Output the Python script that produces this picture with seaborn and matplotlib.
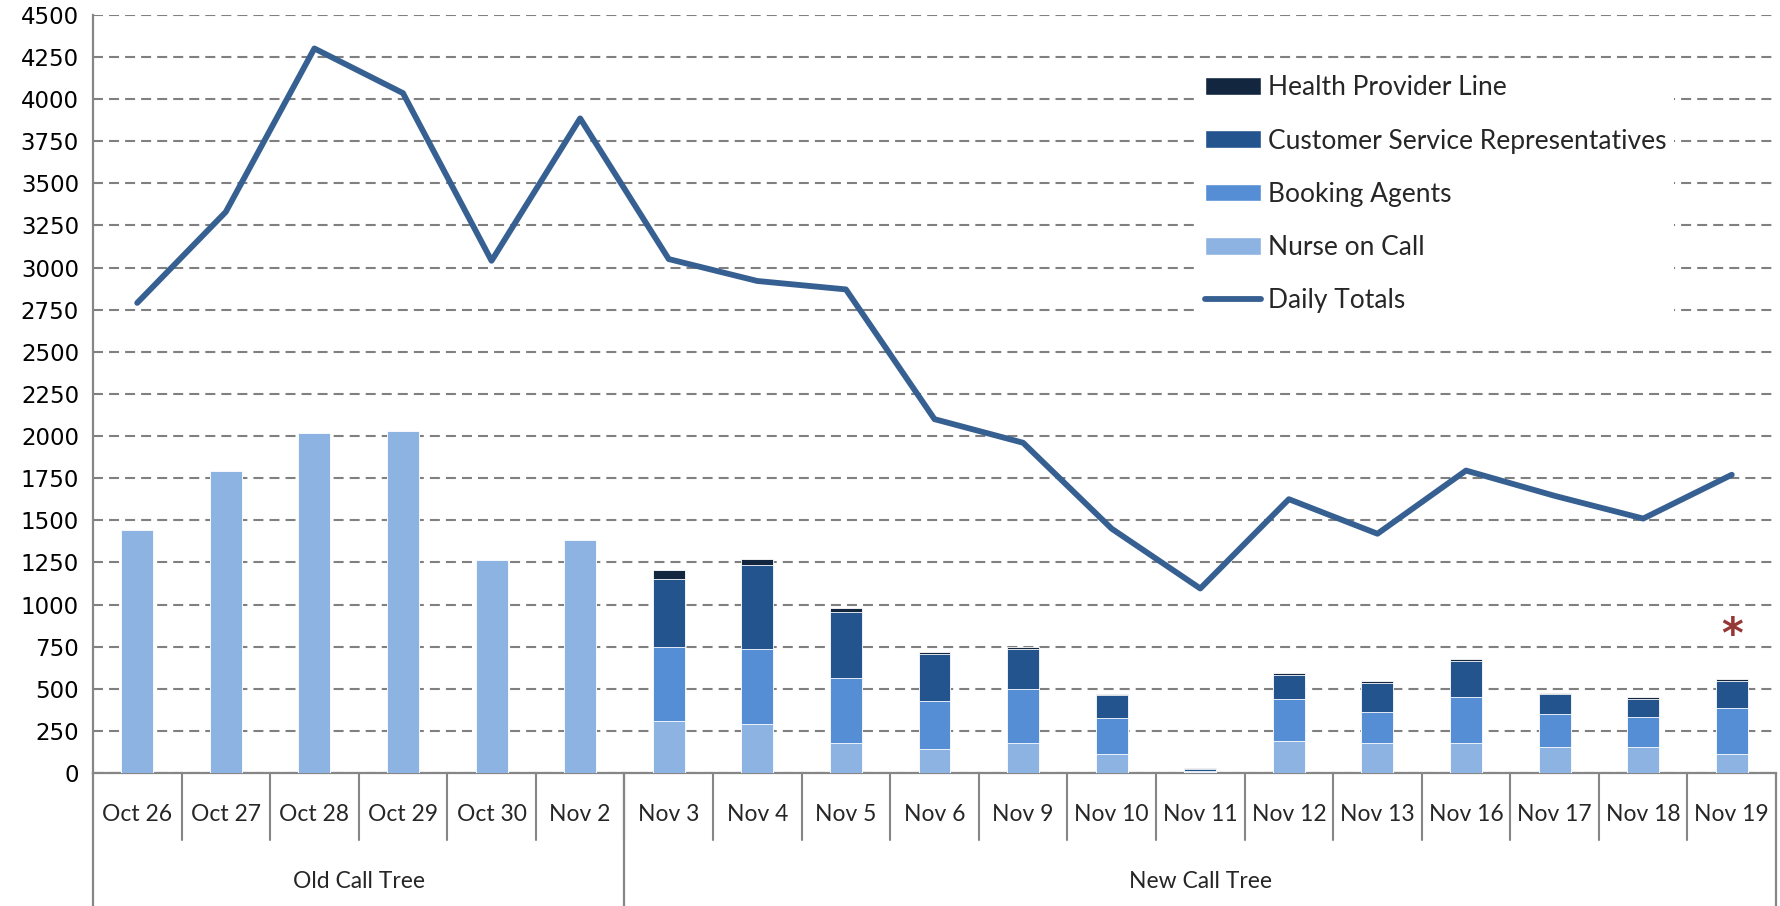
import numpy as np
import pandas as pd
import seaborn as sns
from matplotlib import pyplot as plt
from matplotlib import transforms
from matplotlib.patches import Patch
from matplotlib.lines import Line2D

dates = ['Oct 26', 'Oct 27', 'Oct 28', 'Oct 29', 'Oct 30', 'Nov 2',
         'Nov 3', 'Nov 4', 'Nov 5', 'Nov 6', 'Nov 9', 'Nov 10', 'Nov 11',
         'Nov 12', 'Nov 13', 'Nov 16', 'Nov 17', 'Nov 18', 'Nov 19']
nurse = [1445, 1795, 2020, 2030, 1265, 1380,
         310, 288, 180, 142, 180, 114, 8, 188, 177, 177, 153, 153, 111]
booking = [0, 0, 0, 0, 0, 0,
           437, 447, 382, 288, 316, 212, 6, 250, 184, 277, 196, 182, 274]
csr = [0, 0, 0, 0, 0, 0,
       405, 499, 394, 278, 238, 134, 10, 143, 173, 211, 119, 105, 159]
hpl = [0, 0, 0, 0, 0, 0,
       54, 36, 26, 10, 12, 8, 3, 12, 10, 10, 8, 12, 14]
daily_totals = [2790, 3330, 4300, 4035, 3040, 3885,
                3050, 2920, 2870, 2100, 1960, 1450, 1095, 1625, 1420, 1795,
                1645, 1510, 1770]
groups = ['Old Call Tree', 'New Call Tree']
group_sizes = [6, 13]

c_hpl = '#13263f'
c_csr = '#23548e'
c_book = '#558ed5'
c_nurse = '#8db3e2'
c_line = '#376092'
grey = '#868686'

sns.set_style('white')
plt.rcParams['font.family'] = ['DejaVu Sans']

df = pd.DataFrame({'date': dates, 'nurse': nurse, 'booking': booking,
                   'csr': csr, 'hpl': hpl})
df['s1'] = df['nurse']
df['s2'] = df['s1'] + df['booking']
df['s3'] = df['s2'] + df['csr']
df['s4'] = df['s3'] + df['hpl']

fig = plt.figure(figsize=(17.8, 9.06), dpi=100)
ax = fig.add_axes([0.0522, 0.1468, 0.9456, 0.8369])

# stacked bars drawn as overlaid cumulative sums
for col, c in [('s4', c_hpl), ('s3', c_csr), ('s2', c_book), ('s1', c_nurse)]:
    sns.barplot(data=df, x='date', y=col, color=c, saturation=1, width=0.36,
                edgecolor='white', linewidth=0.6, ax=ax, zorder=3)

sns.lineplot(x=np.arange(len(dates)), y=daily_totals, color=c_line,
             linewidth=4.2, ax=ax, zorder=4)

ax.set_xlim(-0.5, len(dates) - 0.5)
ax.set_ylim(0, 4500)
ax.set_yticks(np.arange(0, 4501, 250))
ax.set_xticks([])
ax.set_xlabel('')
ax.set_ylabel('')
ax.yaxis.grid(True, color='#808080', linestyle=(0, (4.8, 2.9)), linewidth=1.5)
ax.set_axisbelow(True)
for s in ['top', 'right']:
    ax.spines[s].set_visible(False)
for s in ['left', 'bottom']:
    ax.spines[s].set_color(grey)
    ax.spines[s].set_linewidth(1.6)
ax.tick_params(axis='y', direction='out', length=6, width=1.5, color=grey,
               labelsize=16.5, labelcolor='black', pad=4)

# two level category axis
trans = transforms.blended_transform_factory(ax.transData, ax.transAxes)
for i, d in enumerate(dates):
    ax.text(i, -0.055, d, transform=trans, ha='center', va='center',
            fontsize=16.5, family=['Lato', 'DejaVu Sans'])
for b in np.arange(0.5, len(dates) - 1, 1.0):
    ax.plot([b, b], [0, -0.088], transform=trans, color=grey, lw=1.5,
            clip_on=False)
start = -0.5
for g, n in zip(groups, group_sizes):
    ax.plot([start, start], [0, -0.2], transform=trans, color=grey, lw=1.6,
            clip_on=False)
    ax.text(start + n / 2, -0.143, g, transform=trans, ha='center',
            va='center', fontsize=16.5, family=['Lato', 'DejaVu Sans'])
    start += n
ax.plot([start, start], [0, -0.2], transform=trans, color=grey, lw=1.6,
        clip_on=False)

ax.text(len(dates) - 1, 815, '*', ha='center', va='center', fontsize=30,
        fontweight='bold', color='#953735', zorder=5)

handles = [Patch(facecolor=c_hpl, label='Health Provider Line'),
           Patch(facecolor=c_csr, label='Customer Service Representatives'),
           Patch(facecolor=c_book, label='Booking Agents'),
           Patch(facecolor=c_nurse, label='Nurse on Call'),
           Line2D([0], [0], color=c_line, lw=4.2, label='Daily Totals')]
leg = ax.legend(handles=handles, loc='upper left', bbox_to_anchor=(0.648, 0.948),
                frameon=True, facecolor='white', edgecolor='none',
                fancybox=False, framealpha=1, handlelength=2.15,
                handleheight=0.65, handletextpad=0.25, labelspacing=1.07,
                borderpad=0.3, prop={'family': ['Lato', 'DejaVu Sans'], 'size': 19})
leg.set_zorder(6)

fig.savefig('out.png', dpi=100)
